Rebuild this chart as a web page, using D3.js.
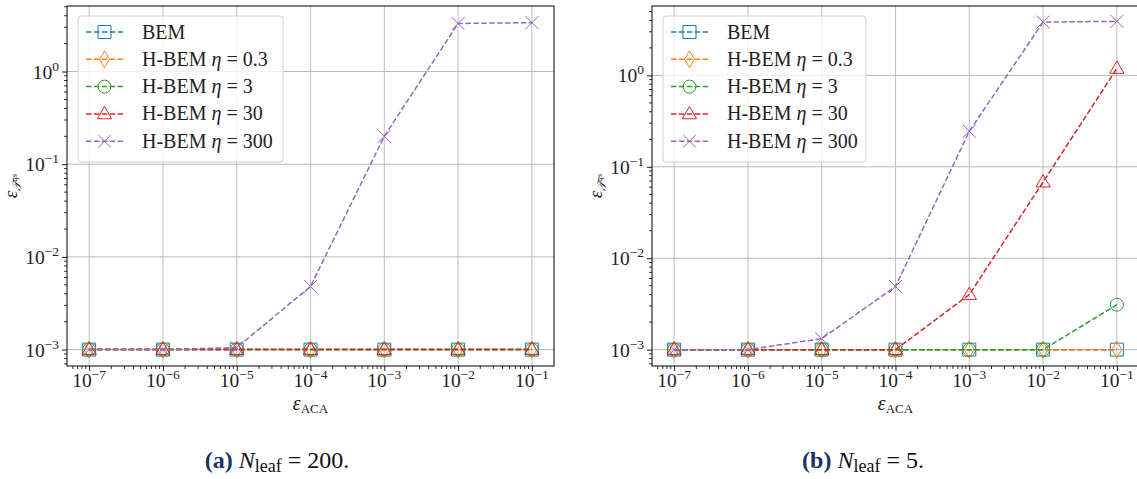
<!DOCTYPE html>
<html><head><meta charset="utf-8">
<script src="https://cdn.jsdelivr.net/npm/d3@7"></script>
<style>body{margin:0;background:#fff}svg{display:block}</style>
</head><body>
<svg id="c" width="1137" height="479"></svg>
<script>
// ---- data ----
const xValues = [1e-7, 1e-6, 1e-5, 1e-4, 1e-3, 1e-2, 1e-1];
const xTickExps = [-7, -6, -5, -4, -3, -2, -1];
const yTickExps = [-3, -2, -1, 0];
const seriesKeys = ["BEM", "0.3", "3", "30", "300"];
const seriesColors = ["#1f77b4", "#ff7f0e", "#2ca02c", "#d62728", "#9467bd"];
const seriesMarkers = ["square", "diamond", "circle", "triangle", "x"];

// panel (a) N_leaf = 200
const a_BEM   = [1e-3, 1e-3, 1e-3, 1e-3, 1e-3, 1e-3, 1e-3];
const a_eta03 = [1e-3, 1e-3, 1e-3, 1e-3, 1e-3, 1e-3, 1e-3];
const a_eta3  = [1e-3, 1e-3, 1e-3, 1e-3, 1e-3, 1e-3, 1e-3];
const a_eta30 = [1e-3, 1e-3, 1e-3, 1e-3, 1e-3, 1e-3, 1e-3];
const a_eta300= [1e-3, 1e-3, 1.05e-3, 4.8e-3, 0.20, 3.3, 3.37];

// panel (b) N_leaf = 5
const b_BEM   = [1e-3, 1e-3, 1e-3, 1e-3, 1e-3, 1e-3, 1e-3];
const b_eta03 = [1e-3, 1e-3, 1e-3, 1e-3, 1e-3, 1e-3, 1.0e-3];
const b_eta3  = [1e-3, 1e-3, 1e-3, 1e-3, 1e-3, 1e-3, 3.1e-3];
const b_eta30 = [1e-3, 1e-3, 1e-3, 1e-3, 4.0e-3, 0.068, 1.19];
const b_eta300= [1e-3, 1e-3, 1.32e-3, 4.9e-3, 0.245, 3.83, 3.9];

const panelA = {series:[a_BEM,a_eta03,a_eta3,a_eta30,a_eta300], caption:"(a)", nval:"200."};
const panelB = {series:[b_BEM,b_eta03,b_eta3,b_eta30,b_eta300], caption:"(b)", nval:"5."};

const svg = d3.select("#c");
const serif = "'Liberation Serif', 'DejaVu Serif', serif";

function markerPath(type, size){
  const s = size/2;
  switch(type){
    case "square": return `M${-s},${-s}H${s}V${s}H${-s}Z`;
    case "diamond": return `M0,${-s*1.3}L${s*0.75},0L0,${s*1.3}L${-s*0.75},0Z`;
    case "circle": return d3.symbol(d3.symbolCircle, Math.PI*s*s)();
    case "triangle": return `M0,${-s*1.15}L${s*1.1},${s*0.75}L${-s*1.1},${s*0.75}Z`;
    case "x": return `M${-s},${-s}L${s},${s}M${-s},${s}L${s},${-s}`;
  }
}

function drawPanel(p, box, yDom, legBox){
  const g = svg.append("g");
  const x = d3.scaleLog().domain([Math.pow(10,-7.3), Math.pow(10,-0.7)]).range([box.l, box.r]);
  const y = d3.scaleLog().domain([Math.pow(10,yDom[0]), Math.pow(10,yDom[1])]).range([box.b, box.t]);
  const clipId = "clip"+p.caption.replace(/\W/g,"");
  svg.append("clipPath").attr("id", clipId).append("rect")
    .attr("x", box.l).attr("y", box.t).attr("width", box.r-box.l).attr("height", box.b-box.t);

  // grid
  g.selectAll(".gx").data(xTickExps).join("line")
    .attr("x1", d=>x(Math.pow(10,d))).attr("x2", d=>x(Math.pow(10,d)))
    .attr("y1", box.t).attr("y2", box.b).attr("stroke","#c4c4c4").attr("stroke-width",1.1);
  g.selectAll(".gy").data(yTickExps).join("line")
    .attr("y1", d=>y(Math.pow(10,d))).attr("y2", d=>y(Math.pow(10,d)))
    .attr("x1", box.l).attr("x2", box.r).attr("stroke","#b8b8b8").attr("stroke-width",1);

  // series
  const plot = g.append("g").attr("clip-path", `url(#${clipId})`);
  const line = d3.line().x((d,i)=>x(xValues[i])).y(d=>y(d));
  p.series.forEach((vals, k)=>{
    plot.append("path").attr("d", line(vals)).attr("fill","none")
      .attr("stroke", seriesColors[k]).attr("stroke-width",1.5).attr("stroke-dasharray","5.5,2.4");
    plot.selectAll(null).data(vals).join("path")
      .attr("transform",(d,i)=>`translate(${x(xValues[i])},${y(d)})`)
      .attr("d", markerPath(seriesMarkers[k], 13)).attr("fill","none")
      .attr("stroke", seriesColors[k]).attr("stroke-width",1);
  });

  // axes
  const xAxis = d3.axisBottom(x).tickValues(xTickExps.map(e=>Math.pow(10,e))).tickSize(5).tickFormat("");
  const gx = g.append("g").attr("transform",`translate(0,${box.b})`).call(xAxis);
  const xMinor = [];
  for(let e=-8;e<=0;e++) for(let m=2;m<=9;m++){const v=m*Math.pow(10,e); if(v>x.domain()[0]&&v<x.domain()[1]) xMinor.push(v);}
  g.selectAll(null).data(xMinor).join("line").attr("x1",d=>x(d)).attr("x2",d=>x(d))
    .attr("y1",box.b).attr("y2",box.b+3).attr("stroke","#000").attr("stroke-width",0.8);
  const yAxis = d3.axisLeft(y).tickValues(yTickExps.map(e=>Math.pow(10,e))).tickSize(5).tickFormat("");
  const gy = g.append("g").attr("transform",`translate(${box.l},0)`).call(yAxis);
  const yMinor = [];
  for(let e=-4;e<=1;e++) for(let m=2;m<=9;m++){const v=m*Math.pow(10,e); if(v>y.domain()[0]&&v<y.domain()[1]) yMinor.push(v);}
  g.selectAll(null).data(yMinor).join("line").attr("y1",d=>y(d)).attr("y2",d=>y(d))
    .attr("x1",box.l).attr("x2",box.l-3).attr("stroke","#000").attr("stroke-width",0.8);
  [gx,gy].forEach(a=>{a.select(".domain").remove(); a.selectAll(".tick line").attr("stroke-width",0.9);});

  // tick labels
  xTickExps.forEach(e=>{
    const t = g.append("text").attr("x", x(Math.pow(10,e))).attr("y", box.b+21)
      .attr("text-anchor","middle").attr("font-family",serif).attr("font-size",19.5).attr("fill","#222");
    t.append("tspan").text("10");
    t.append("tspan").attr("dy",-8).attr("font-size",13.5).text("\u2212"+(-e));
  });
  yTickExps.forEach(e=>{
    const t = g.append("text").attr("x", box.l-8).attr("y", y(Math.pow(10,e))+7)
      .attr("text-anchor","end").attr("font-family",serif).attr("font-size",19.5).attr("fill","#222");
    t.append("tspan").text("10");
    t.append("tspan").attr("dy",-8).attr("font-size",13.5).text(e===0?"0":"\u2212"+(-e));
  });

  // spines
  g.append("rect").attr("x",box.l).attr("y",box.t).attr("width",box.r-box.l).attr("height",box.b-box.t)
    .attr("fill","none").attr("stroke","#000").attr("stroke-width",1);

  // axis labels
  const xl = g.append("text").attr("x",(box.l+box.r)/2).attr("y",box.b+44).attr("text-anchor","middle")
    .attr("font-family",serif).attr("fill","#222");
  xl.append("tspan").attr("font-style","italic").attr("font-size",20).text("\u03B5");
  xl.append("tspan").attr("dy",3).attr("font-size",13).text("ACA");
  const yl = g.append("text").attr("transform",`translate(${box.l-50},${(box.t+box.b)/2}) rotate(-90)`)
    .attr("text-anchor","middle").attr("font-family",serif).attr("fill","#222");
  yl.append("tspan").attr("font-style","italic").attr("font-size",19).text("\u03B5");
  yl.append("tspan").attr("dy",4).attr("font-size",12).attr("font-style","italic").text("\uD835\uDCAF");
  yl.append("tspan").attr("dy",-4).attr("font-size",9).attr("font-style","italic").text("qs");

  // legend
  g.append("rect").attr("x",legBox.x).attr("y",legBox.y).attr("width",legBox.w).attr("height",legBox.h)
    .attr("rx",3).attr("fill","#fff").attr("fill-opacity",0.8).attr("stroke","#d0d0d0").attr("stroke-width",1);
  seriesKeys.forEach((key,k)=>{
    const cy = legBox.y + 16 + k*27.3;
    const lx0 = legBox.x+8, lx1 = legBox.x+45;
    g.append("line").attr("x1",lx0).attr("x2",lx1).attr("y1",cy).attr("y2",cy)
      .attr("stroke",seriesColors[k]).attr("stroke-width",1.5).attr("stroke-dasharray","5.5,2.4");
    g.append("path").attr("transform",`translate(${(lx0+lx1)/2},${cy})`)
      .attr("d",markerPath(seriesMarkers[k],13)).attr("fill","none").attr("stroke",seriesColors[k]).attr("stroke-width",1);
    const t = g.append("text").attr("x",legBox.x+64).attr("y",cy+6.5).attr("font-family",serif)
      .attr("font-size",20).attr("fill","#222");
    if(key==="BEM"){ t.text("BEM"); }
    else {
      t.append("tspan").text("H-BEM ");
      t.append("tspan").attr("font-style","italic").text("\u03B7");
      t.append("tspan").text(" = "+key);
    }
  });

  // caption
  const c = g.append("text").attr("x",box.capX).attr("y",468).attr("text-anchor","middle")
    .attr("font-size",24).attr("fill","#111").attr("font-family",serif);
  c.append("tspan").attr("font-weight","bold").attr("fill","#22315f").text(p.caption+" ");
  c.append("tspan").attr("font-style","italic").text("N");
  c.append("tspan").attr("font-size",18).attr("dy",4).text("leaf");
  c.append("tspan").attr("dy",-4).text(" = "+p.nval);
}

drawPanel(panelA, {l:67, r:554, t:6, b:366, capX:277}, [-3.177, 0.707], {x:78, y:16, w:205, h:146});
drawPanel(panelB, {l:652, r:1139, t:6, b:366, capX:863}, [-3.179, 0.759], {x:663, y:16, w:203, h:146});
</script>
</body></html>
